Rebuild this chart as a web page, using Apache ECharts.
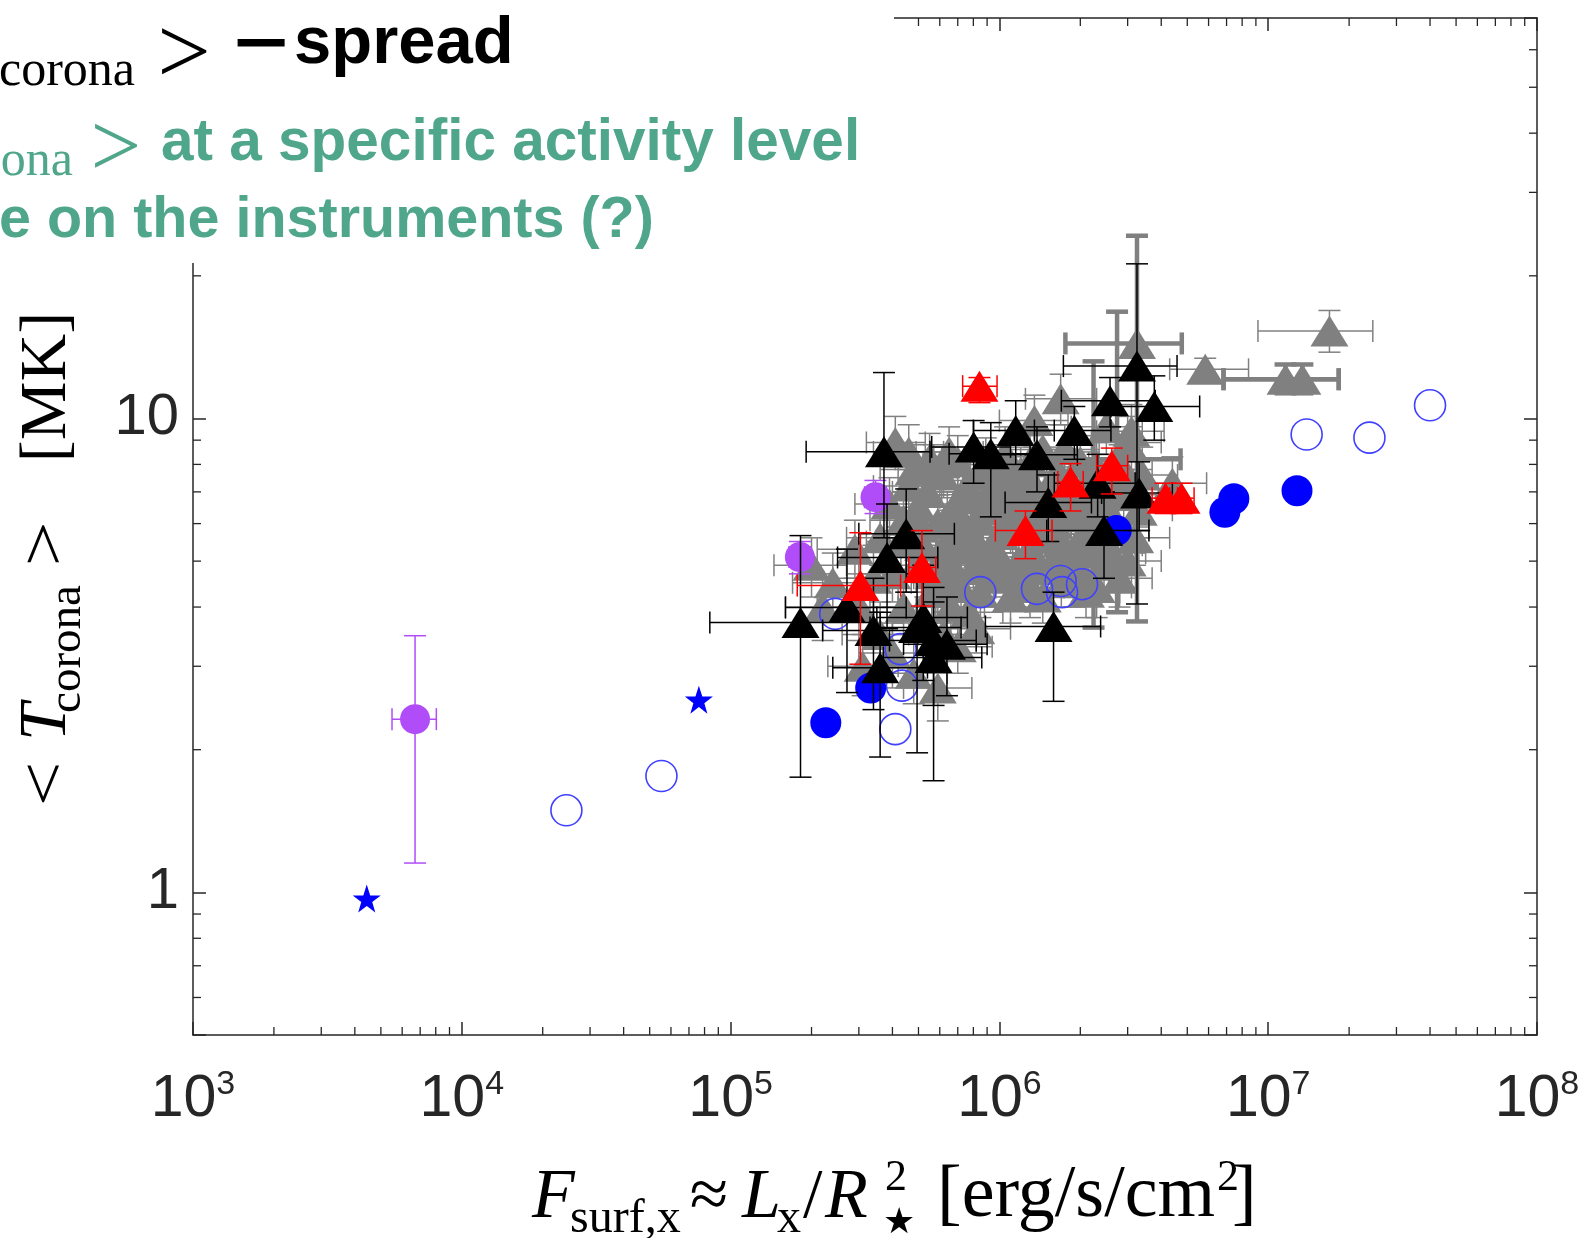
<!DOCTYPE html>
<html>
<head>
<meta charset="utf-8">
<title>Coronal temperature vs X-ray surface flux</title>
<script src="https://cdn.jsdelivr.net/npm/echarts@6/dist/echarts.min.js"></script>
<style>
html,body{margin:0;padding:0;background:#ffffff;}
#chart{width:1583px;height:1238px;}
</style>
</head>
<body>
<div id="chart"></div>
<script>
// ---------------- axes ----------------
const xRange = [1e3, 1e8];
const yRange = [0.5, 70];
const xTickExponents = [3, 4, 5, 6, 7, 8];
const yTickLabels = ['1', '10'];
const xDecades = [1e3, 1e4, 1e5, 1e6, 1e7];
const yDecades = [0.1, 1, 10];
const minorMultipliers = [2, 3, 4, 5, 6, 7, 8, 9];

// ---------------- data: [F_surf, T, F_lo, F_hi, T_lo, T_hi] ----------------
const grayThick = [
  [3.25e6, 14.4, 1.76e6, 4.77e6, 3.73, 24.3],
  [2.74e6, 8.2, 1.9e6, 4.72e6, 3.9, 16.8],
  [2.24e6, 7.0, 1.6e6, 3.2e6, 3.62, 13.2],
  [1.16e7, 12.1, 6.82e6, 1.83e7, 11.3, 13.0],
  [1.34e7, 12.1, 6.82e6, 1.83e7, 11.3, 13.0]
];
const gray = [
  [4.1e5, 8.9, 3.2e5, 5.3e5, 7.9, 10.1],
  [4.8e5, 7.8, 3.6e5, 6.4e5, 6.9, 8.8],
  [5.4e5, 7.0, 4.0e5, 7.2e5, 6.2, 7.9],
  [6.1e5, 7.6, 4.6e5, 8.3e5, 6.6, 8.7],
  [6.8e5, 6.5, 5.0e5, 9.2e5, 5.7, 7.4],
  [7.6e5, 7.2, 5.6e5, 1.0e6, 6.4, 8.1],
  [8.4e5, 6.1, 6.3e5, 1.1e6, 5.4, 6.9],
  [9.2e5, 7.0, 7.0e5, 1.2e6, 6.1, 8.0],
  [1.0e6, 5.7, 7.4e5, 1.35e6, 5.0, 6.5],
  [1.1e6, 6.6, 8.2e5, 1.45e6, 5.8, 7.5],
  [1.2e6, 7.7, 9.0e5, 1.6e6, 6.8, 8.7],
  [1.3e6, 5.3, 9.6e5, 1.75e6, 4.6, 6.1],
  [1.42e6, 6.3, 1.05e6, 1.9e6, 5.5, 7.2],
  [1.55e6, 7.3, 1.15e6, 2.1e6, 6.4, 8.3],
  [1.7e6, 5.5, 1.25e6, 2.3e6, 4.8, 6.3],
  [1.85e6, 6.5, 1.35e6, 2.5e6, 5.7, 7.4],
  [2.0e6, 8.1, 1.5e6, 2.7e6, 7.1, 9.2],
  [2.2e6, 5.2, 1.6e6, 3.0e6, 4.5, 6.0],
  [2.4e6, 6.7, 1.8e6, 3.2e6, 5.8, 7.7],
  [2.7e6, 5.9, 2.0e6, 3.6e6, 5.1, 6.8],
  [3.0e6, 8.9, 2.2e6, 4.0e6, 7.8, 10.1],
  [3.3e6, 6.4, 2.4e6, 4.4e6, 5.6, 7.3],
  [1.69e6, 11.0, 1.25e6, 2.3e6, 9.7, 12.4],
  [1.35e6, 9.9, 1.0e6, 1.8e6, 8.7, 11.2],
  [2.5e6, 9.6, 1.85e6, 3.4e6, 8.4, 10.9],
  [4.4e5, 6.1, 3.3e5, 5.9e5, 5.3, 7.0],
  [5.2e5, 5.4, 3.9e5, 7.0e5, 4.7, 6.2],
  [5.9e5, 6.0, 4.4e5, 7.9e5, 5.2, 6.9],
  [7.0e5, 5.3, 5.2e5, 9.4e5, 4.6, 6.1],
  [8.0e5, 4.8, 6.0e5, 1.07e6, 4.2, 5.5],
  [9.5e5, 4.6, 7.1e5, 1.27e6, 4.0, 5.3],
  [1.12e6, 4.7, 8.4e5, 1.5e6, 4.1, 5.4],
  [1.3e6, 4.4, 9.7e5, 1.74e6, 3.8, 5.1],
  [1.55e6, 4.8, 1.15e6, 2.1e6, 4.2, 5.5],
  [1.9e6, 4.6, 1.4e6, 2.55e6, 4.0, 5.3],
  [2.3e6, 4.4, 1.7e6, 3.1e6, 3.8, 5.1],
  [6.3e5, 4.5, 4.7e5, 8.4e5, 3.9, 5.2],
  [7.4e5, 5.9, 5.5e5, 9.9e5, 5.2, 6.7],
  [8.9e5, 8.0, 6.6e5, 1.2e6, 7.0, 9.1],
  [1.05e6, 8.4, 7.8e5, 1.4e6, 7.4, 9.6],
  [1.9e6, 7.1, 1.4e6, 2.55e6, 6.2, 8.1],
  [4.9e5, 4.9, 3.7e5, 6.6e5, 4.3, 5.6],
  [5.6e5, 4.3, 4.2e5, 7.5e5, 3.7, 4.9],
  [3.9e5, 6.6, 2.9e5, 5.2e5, 5.8, 7.5],
  [4.0e5, 4.7, 3.0e5, 5.4e5, 4.1, 5.4],
  [4.4e5, 4.0, 3.3e5, 5.9e5, 3.5, 4.6],
  [5.3e5, 3.7, 4.0e5, 7.1e5, 3.2, 4.2],
  [6.6e5, 4.0, 4.9e5, 8.8e5, 3.5, 4.6],
  [7.7e5, 3.9, 5.8e5, 1.03e6, 3.4, 4.5],
  [3.4e6, 7.6, 2.5e6, 4.6e6, 6.6, 8.7],
  [4.4e6, 7.3, 3.3e6, 5.9e6, 6.4, 8.3],
  [2.8e6, 4.6, 2.1e6, 3.7e6, 4.0, 5.3],
  [4.6e5, 8.5, 3.4e5, 6.2e5, 7.5, 9.7],
  [3.1e6, 9.4, 2.3e6, 4.1e6, 8.2, 10.7],
  [5.83e6, 12.7, 4.3e6, 8.45e6, 11.9, 13.4],
  [1.69e7, 15.3, 9.16e6, 2.45e7, 13.8, 16.9],
  [3.4e5, 4.6, 2.4e5, 4.8e5, 3.9, 5.4],
  [2.9e5, 5.3, 2.1e5, 4.0e5, 4.6, 6.1],
  [3.0e5, 4.0, 2.1e5, 4.2e5, 3.4, 4.7],
  [2.4e5, 4.5, 1.7e5, 3.4e5, 3.9, 5.2],
  [3.6e5, 3.5, 2.6e5, 5.0e5, 3.0, 4.1],
  [6.0e5, 5.0, 4.5e5, 8.0e5, 4.4, 5.7],
  [7.2e5, 4.4, 5.4e5, 9.6e5, 3.9, 5.0],
  [8.6e5, 5.2, 6.4e5, 1.15e6, 4.6, 5.9],
  [1.0e6, 5.1, 7.5e5, 1.34e6, 4.5, 5.8],
  [1.16e6, 5.9, 8.7e5, 1.55e6, 5.2, 6.7],
  [1.38e6, 5.6, 1.03e6, 1.85e6, 4.9, 6.4],
  [1.6e6, 6.0, 1.2e6, 2.14e6, 5.3, 6.8],
  [1.8e6, 5.0, 1.35e6, 2.4e6, 4.4, 5.7],
  [2.05e6, 5.7, 1.53e6, 2.75e6, 5.0, 6.5],
  [2.3e6, 6.1, 1.7e6, 3.1e6, 5.4, 6.9],
  [9.8e5, 6.4, 7.3e5, 1.3e6, 5.6, 7.3],
  [8.0e5, 6.8, 6.0e5, 1.07e6, 6.0, 7.7],
  [6.5e5, 5.6, 4.9e5, 8.7e5, 4.9, 6.4],
  [1.25e6, 6.9, 9.3e5, 1.67e6, 6.1, 7.8],
  [1.7e6, 6.9, 1.27e6, 2.27e6, 6.1, 7.8],
  [2.15e6, 7.5, 1.6e6, 2.9e6, 6.6, 8.5],
  [2.6e6, 7.2, 1.95e6, 3.5e6, 6.4, 8.2],
  [1.45e6, 8.6, 1.08e6, 1.94e6, 7.6, 9.7],
  [1.1e6, 7.3, 8.2e5, 1.47e6, 6.4, 8.3],
  [7.0e5, 8.1, 5.2e5, 9.4e5, 7.1, 9.2],
  [5.5e5, 8.2, 4.1e5, 7.4e5, 7.2, 9.3],
  [2.1e6, 4.3, 1.57e6, 2.8e6, 3.8, 4.9],
  [1.45e6, 4.2, 1.08e6, 1.94e6, 3.7, 4.8],
  [1.1e6, 4.2, 8.2e5, 1.47e6, 3.7, 4.8],
  [8.5e5, 4.3, 6.3e5, 1.14e6, 3.8, 4.9],
  [3.1e5, 3.0, 2.3e5, 4.2e5, 2.6, 3.5],
  [4.0e5, 3.2, 3.0e5, 5.4e5, 2.7, 3.7],
  [4.8e5, 2.9, 3.6e5, 6.4e5, 2.5, 3.4],
  [2.2e5, 4.0, 1.6e5, 3.0e5, 3.4, 4.7],
  [2.0e5, 4.9, 1.45e5, 2.7e5, 4.2, 5.6],
  [5.9e5, 2.7, 4.4e5, 7.9e5, 2.3, 3.2],
  [3.0e6, 5.0, 2.2e6, 4.0e6, 4.4, 5.7],
  [2.5e6, 5.4, 1.85e6, 3.4e6, 4.7, 6.2],
  [5.0e5, 6.5, 3.7e5, 6.7e5, 5.7, 7.4],
  [5.7e5, 7.8, 4.2e5, 7.7e5, 6.9, 8.8],
  [6.4e5, 6.2, 4.8e5, 8.6e5, 5.5, 7.0],
  [7.3e5, 6.9, 5.4e5, 9.8e5, 6.1, 7.8],
  [8.2e5, 5.5, 6.1e5, 1.1e6, 4.8, 6.3],
  [9.0e5, 6.6, 6.7e5, 1.2e6, 5.8, 7.5],
  [9.6e5, 5.2, 7.2e5, 1.28e6, 4.6, 5.9],
  [1.04e6, 6.9, 7.8e5, 1.4e6, 6.1, 7.8],
  [1.08e6, 6.1, 8.1e5, 1.45e6, 5.4, 6.9],
  [1.18e6, 5.0, 8.8e5, 1.58e6, 4.4, 5.7],
  [1.22e6, 6.5, 9.1e5, 1.64e6, 5.7, 7.4],
  [1.33e6, 7.3, 9.9e5, 1.78e6, 6.4, 8.3],
  [1.36e6, 4.9, 1.02e6, 1.82e6, 4.3, 5.6],
  [1.5e6, 5.9, 1.12e6, 2.0e6, 5.2, 6.7],
  [1.62e6, 5.1, 1.21e6, 2.17e6, 4.5, 5.8],
  [1.75e6, 6.2, 1.3e6, 2.35e6, 5.5, 7.0],
  [1.95e6, 5.4, 1.45e6, 2.6e6, 4.7, 6.1],
  [2.0e6, 6.3, 1.5e6, 2.7e6, 5.6, 7.1],
  [2.2e6, 6.8, 1.6e6, 2.95e6, 6.0, 7.7],
  [2.45e6, 4.9, 1.8e6, 3.3e6, 4.3, 5.6],
  [2.55e6, 6.4, 1.9e6, 3.4e6, 5.6, 7.3],
  [2.9e6, 6.9, 2.15e6, 3.9e6, 6.1, 7.8],
  [3.2e6, 5.6, 2.4e6, 4.3e6, 4.9, 6.4],
  [1.05e6, 7.8, 7.8e5, 1.4e6, 6.9, 8.8],
  [1.3e6, 8.1, 9.7e5, 1.74e6, 7.1, 9.2],
  [1.65e6, 7.7, 1.23e6, 2.2e6, 6.8, 8.7],
  [1.75e6, 8.6, 1.3e6, 2.35e6, 7.6, 9.7],
  [8.5e5, 7.6, 6.3e5, 1.14e6, 6.7, 8.6],
  [6.5e5, 8.5, 4.9e5, 8.7e5, 7.5, 9.6],
  [5.1e5, 5.9, 3.8e5, 6.8e5, 5.2, 6.7],
  [5.7e5, 4.7, 4.3e5, 7.6e5, 4.1, 5.3],
  [6.8e5, 4.8, 5.1e5, 9.1e5, 4.2, 5.5],
  [7.8e5, 5.7, 5.8e5, 1.04e6, 5.0, 6.4],
  [9.0e5, 4.9, 6.7e5, 1.2e6, 4.3, 5.6],
  [1.2e6, 4.5, 9.0e5, 1.6e6, 4.0, 5.1],
  [1.7e6, 4.5, 1.27e6, 2.27e6, 4.0, 5.1],
  [2.0e6, 4.8, 1.5e6, 2.7e6, 4.2, 5.5],
  [2.6e6, 5.2, 1.95e6, 3.5e6, 4.6, 5.9],
  [4.6e5, 7.2, 3.4e5, 6.2e5, 6.3, 8.1],
  [4.3e5, 5.5, 3.2e5, 5.8e5, 4.8, 6.3],
  [3.6e5, 5.6, 2.7e5, 4.8e5, 4.9, 6.4],
  [6.2e5, 3.5, 4.6e5, 8.3e5, 3.1, 4.0],
  [7.0e5, 3.3, 5.2e5, 9.4e5, 2.9, 3.8],
  [8.2e5, 3.6, 6.1e5, 1.1e6, 3.2, 4.1],
  [2.3e6, 7.9, 1.7e6, 3.1e6, 7.0, 8.9],
  [2.8e6, 7.8, 2.1e6, 3.7e6, 6.9, 8.8]
];
const blackTri = [
  [3.72e5, 8.51, 1.91e5, 5.52e5, 5.6, 12.5],
  [8.02e5, 8.71, 5.6e5, 1.1e6, 7.3, 9.9],
  [9.29e5, 8.42, 6.5e5, 1.3e6, 6.2, 9.8],
  [1.15e6, 9.43, 8.0e5, 1.6e6, 8.0, 10.9],
  [1.38e6, 8.38, 9.5e5, 1.95e6, 7.0, 9.6],
  [1.9e6, 9.43, 1.35e6, 2.6e6, 8.2, 10.6],
  [2.58e6, 10.9, 1.7e6, 3.8e6, 9.6, 12.2],
  [3.25e6, 12.9, 1.73e6, 4.58e6, 4.06, 21.2],
  [3.77e6, 10.6, 2.6e6, 5.56e6, 9.0, 12.3],
  [3.31e6, 6.96, 2.4e6, 4.4e6, 5.8, 8.1],
  [2.32e6, 7.3, 1.6e6, 3.2e6, 6.2, 8.4],
  [1.52e6, 6.65, 1.05e6, 2.2e6, 5.5, 7.6],
  [2.45e6, 5.8, 1.5e6, 3.6e6, 4.6, 7.0],
  [1.59e6, 3.64, 8.87e5, 2.38e6, 2.53, 4.3],
  [1.82e5, 3.71, 8.37e4, 3.4e5, 1.75, 5.66],
  [2.71e5, 3.99, 1.6e5, 4.5e5, 2.64, 5.3],
  [3.4e5, 3.57, 2.2e5, 5.0e5, 2.43, 4.6],
  [3.6e5, 2.98, 2.4e5, 5.4e5, 1.93, 3.9],
  [4.94e5, 3.62, 3.3e5, 7.2e5, 1.97, 4.7],
  [5.69e5, 3.40, 3.9e5, 8.2e5, 2.48, 4.4],
  [6.38e5, 3.34, 4.4e5, 9.0e5, 2.6, 4.2],
  [5.69e5, 3.13, 3.7e5, 8.6e5, 1.72, 4.1],
  [3.82e5, 5.09, 2.5e5, 5.9e5, 3.6, 6.6],
  [4.5e5, 5.71, 3.0e5, 6.8e5, 4.3, 7.1],
  [5.21e5, 3.80, 3.5e5, 7.6e5, 2.8, 4.9]
];
const redTri = [
  [8.43e5, 11.7, 7.3e5, 9.8e5, 10.8, 12.2],
  [2.62e6, 7.95, 2.3e6, 3.0e6, 6.93, 8.66],
  [1.84e6, 7.34, 1.65e6, 2.05e6, 6.38, 8.03],
  [1.25e6, 5.8, 9.66e5, 1.57e6, 5.06, 6.38],
  [4.15e6, 6.79, 3.7e6, 4.6e6, 6.3, 7.3],
  [4.76e6, 6.79, 4.3e6, 5.3e6, 6.3, 7.3],
  [3.04e5, 4.44, 1.77e5, 4.29e5, 3.03, 5.74],
  [5.15e5, 4.85, 4.6e5, 5.8e5, 4.02, 5.8]
];
const purpleDots = [
  [6.7e3, 2.32, 5.5e3, 8.04e3, 1.153, 3.48],
  [1.81e5, 5.1, 1.65e5, 1.98e5, 4.7, 5.5],
  [3.46e5, 6.82, 3.15e5, 3.8e5, 6.3, 7.4]
];
// [F_surf, T]
const blueFilled = [
  [2.26e5, 2.28],
  [3.32e5, 2.70],
  [2.72e6, 5.80],
  [6.9e6, 6.34],
  [7.45e6, 6.77],
  [1.28e7, 7.04]
];
const blueOpen = [
  [2.45e4, 1.49],
  [5.53e4, 1.76],
  [2.45e5, 3.87],
  [4.29e5, 3.26],
  [4.34e5, 2.73],
  [4.10e5, 2.21],
  [8.49e5, 4.30],
  [1.38e6, 4.37],
  [1.69e6, 4.54],
  [1.71e6, 4.30],
  [2.03e6, 4.47],
  [1.39e7, 9.25],
  [2.38e7, 9.11],
  [4.0e7, 10.66]
];
const blueStars = [
  [4.43e3, 0.97],
  [7.62e4, 2.55]
];

// ---------------- build ----------------
const xMinorTicks = xDecades.flatMap(d => minorMultipliers.map(m => m * d));
const yMinorTicks = yDecades.flatMap(d => minorMultipliers.map(m => m * d))
  .filter(v => v > yRange[0] && v < yRange[1]);

const AX = '#262626';
const TRI = [38, 31];
const STAR = 'path://M50,0 L61.8,35.1 L98.1,35.1 L68.8,56.7 L79.4,90.9 L50,69.1 L20.6,90.9 L31.2,56.7 L1.9,35.1 L38.2,35.1 Z';

function errorBars(name, data, color, width, cap, z) {
  return {
    type: 'custom', name: name, data: data, z: z, silent: true,
    xAxisIndex: 0, yAxisIndex: 0,
    encode: {x: 0, y: 1},
    renderItem: function (params, api) {
      const x = api.value(0), y = api.value(1);
      const xl = api.value(2), xh = api.value(3), yl = api.value(4), yh = api.value(5);
      const st = {stroke: color, lineWidth: width, fill: null};
      const ch = [];
      const seg = (p, q) => ch.push({type: 'line', shape: {x1: p[0], y1: p[1], x2: q[0], y2: q[1]}, style: st});
      if (xl > 0 && xh > 0) {
        const a = api.coord([xl, y]), b = api.coord([xh, y]);
        seg(a, b);
        seg([a[0], a[1] - cap / 2], [a[0], a[1] + cap / 2]);
        seg([b[0], b[1] - cap / 2], [b[0], b[1] + cap / 2]);
      }
      if (yl > 0 && yh > 0) {
        const a = api.coord([x, yl]), b = api.coord([x, yh]);
        seg(a, b);
        seg([a[0] - cap / 2, a[1]], [a[0] + cap / 2, a[1]]);
        seg([b[0] - cap / 2, b[1]], [b[0] + cap / 2, b[1]]);
      }
      return {type: 'group', children: ch};
    }
  };
}

function scatter(name, data, symbol, size, color, z, hollow) {
  return {
    type: 'scatter', name: name, z: z, silent: true,
    data: data.map(d => [d[0], d[1]]),
    symbol: symbol, symbolSize: size,
    itemStyle: hollow
      ? {color: 'rgba(255,255,255,0)', borderColor: color, borderWidth: 1.6, opacity: 1}
      : {color: color, opacity: 1, borderWidth: 0},
    emphasis: {disabled: true}
  };
}

const minorTickSeries = [
  {
    type: 'custom', name: 'xminor', silent: true, z: 20,
    data: xMinorTicks.map(v => [v, yRange[0]]), encode: {x: 0, y: 1},
    renderItem: function (params, api) {
      const v = api.value(0);
      const b = api.coord([v, yRange[0]]), t = api.coord([v, yRange[1]]);
      const st = {stroke: AX, lineWidth: 1.3};
      return {type: 'group', children: [
        {type: 'line', shape: {x1: b[0], y1: b[1], x2: b[0], y2: b[1] - 8}, style: st},
        {type: 'line', shape: {x1: t[0], y1: t[1], x2: t[0], y2: t[1] + 8}, style: st}
      ]};
    }
  },
  {
    type: 'custom', name: 'yminor', silent: true, z: 20,
    data: yMinorTicks.map(v => [xRange[0], v]), encode: {x: 0, y: 1},
    renderItem: function (params, api) {
      const v = api.value(1);
      const l = api.coord([xRange[0], v]), r = api.coord([xRange[1], v]);
      const st = {stroke: AX, lineWidth: 1.3};
      return {type: 'group', children: [
        {type: 'line', shape: {x1: l[0], y1: l[1], x2: l[0] + 8, y2: l[1]}, style: st},
        {type: 'line', shape: {x1: r[0], y1: r[1], x2: r[0] - 8, y2: r[1]}, style: st}
      ]};
    }
  }
];

function logAxis(kind, pos, range, showLabel) {
  const base = {
    type: 'log', logBase: 10, min: range[0], max: range[1], position: pos,
    axisLine: {show: true, onZero: false, lineStyle: {color: AX, width: 1.5}},
    axisTick: {show: true, inside: true, length: 13, lineStyle: {color: AX, width: 1.5}},
    splitLine: {show: false},
    minorTick: {show: false},
    minorSplitLine: {show: false}
  };
  if (!showLabel) {
    base.axisLabel = {show: false};
  } else if (kind === 'x') {
    base.axisLabel = {
      show: true, margin: 33, showMinLabel: true, showMaxLabel: true,
      formatter: function (v) {
        const e = Math.round(Math.log10(v));
        return xTickExponents.indexOf(e) >= 0 ? '{b|10}{s|' + e + '}' : '';
      },
      rich: {
        b: {fontSize: 59, fontFamily: 'Liberation Sans', color: AX},
        s: {fontSize: 34, fontFamily: 'Liberation Sans', color: AX, padding: [0, 0, 30, 0]}
      }
    };
  } else {
    base.axisLabel = {
      show: true, margin: 14, fontSize: 58, fontFamily: 'Liberation Sans', color: AX,
      formatter: function (v) {
        const s = String(Math.round(v));
        return (Math.abs(v - Math.round(v)) < 1e-6 && yTickLabels.indexOf(s) >= 0) ? s : '';
      }
    };
  }
  return base;
}

// positioned text (baseline given)
function txt(str, x, baseline, size, family, opts) {
  opts = opts || {};
  const asc = family.indexOf('Serif') >= 0 ? 0.3375 : 0.3465;
  return {
    type: 'text', z: 101, silent: true,
    style: {
      text: str, x: x, y: baseline - asc * size,
      fontSize: size, fontFamily: family,
      fontWeight: opts.weight || 'normal', fontStyle: opts.italic ? 'italic' : 'normal',
      fill: opts.color || '#000000',
      align: opts.align || 'left', textAlign: opts.align || 'left',
      verticalAlign: 'middle', textVerticalAlign: 'middle'
    }
  };
}
// glyph centred at (cx, cy) with optional scaling
function glyph(str, cx, cy, size, family, opts) {
  opts = opts || {};
  return {
    type: 'text', z: 101, silent: true,
    x: cx, y: cy, scaleX: opts.sx || 1, scaleY: opts.sy || 1, rotation: opts.rot || 0,
    style: {
      text: str, x: 0, y: (opts.dy || 0) * size,
      fontSize: size, fontFamily: family,
      fontWeight: opts.weight || 'normal', fontStyle: opts.italic ? 'italic' : 'normal',
      fill: opts.color || '#000000',
      align: 'center', textAlign: 'center', verticalAlign: 'middle', textVerticalAlign: 'middle'
    }
  };
}
// rotated 90deg ccw; cy = screen y centre, baselineX = screen x of baseline
function rtxt(str, cy, baselineX, size, family, opts) {
  opts = opts || {};
  return {
    type: 'text', z: 101, silent: true,
    x: baselineX - 0.3375 * size, y: cy, rotation: Math.PI / 2, scaleX: opts.sx || 1,
    style: {
      text: str, x: 0, y: 0, fontSize: size, fontFamily: family,
      fontStyle: opts.italic ? 'italic' : 'normal', fill: '#000000',
      align: 'center', textAlign: 'center', verticalAlign: 'middle', textVerticalAlign: 'middle'
    }
  };
}

const GREEN = '#4FA68B';
const SERIF = 'Liberation Serif';
const SANS = 'Liberation Sans';

const graphics = [
  {type: 'rect', z: 100, silent: true, shape: {x: 0, y: 0, width: 894, height: 263}, style: {fill: '#ffffff'}},
  // overlay text lines (slide annotations)
  txt('corona', 135, 89, 50, SERIF, {align: 'right'}),
  glyph('>', 184, 49, 95, SERIF, {dy: 0.09}),
  glyph('\u2212', 261, 47, 67, SANS, {weight: 'bold', sx: 1.4}),
  txt('spread', 294, 68, 67, SANS, {weight: 'bold'}),
  txt('ona', 73, 179, 50, SERIF, {align: 'right', color: GREEN}),
  glyph('>', 116, 144.5, 90, SERIF, {dy: 0.09, color: GREEN}),
  txt('at a specific activity level', 161, 164, 58.5, SANS, {weight: 'bold', color: GREEN}),
  txt('e on the instruments (?)', -1, 241, 57.5, SANS, {weight: 'bold', color: GREEN}),
  // y-axis title (rotated)
  rtxt('<', 784, 70, 66, SERIF, {sx: 1.2}),
  rtxt('T', 722, 70, 68, SERIF, {italic: true}),
  rtxt('corona', 649, 84, 47, SERIF),
  rtxt('>', 544, 70, 66, SERIF, {sx: 1.2}),
  rtxt('[MK]', 387, 70, 66, SERIF),
  // x-axis title
  txt('F', 532, 1222, 70, SERIF, {italic: true}),
  txt('surf,x', 570, 1236, 48, SERIF),
  txt('\u2248', 709, 1222, 70, SERIF, {align: 'center'}),
  txt('L', 742, 1222, 70, SERIF, {italic: true}),
  txt('x', 777, 1236, 48, SERIF),
  txt('/', 803, 1222, 70, SERIF),
  txt('R', 825, 1222, 70, SERIF, {italic: true}),
  txt('\u2605', 883, 1236, 36, 'DejaVu Sans'),
  txt('2', 885, 1193, 44, SERIF),
  txt('[erg/s/cm', 937, 1222, 74, SERIF),
  txt('2', 1217, 1193, 44, SERIF),
  txt(']', 1232, 1222, 74, SERIF)
];

const series = [].concat(
  minorTickSeries,
  [
    errorBars('grayErr', gray, '#808080', 1.5, 22, 2),
    errorBars('grayThickErr', grayThick, '#808080', 4.5, 22, 2),
    scatter('gray', gray, 'triangle', TRI, '#808080', 3, false),
    scatter('grayThick', grayThick, 'triangle', TRI, '#808080', 3, false),
    scatter('blueOpen', blueOpen, 'circle', 31, '#4040FF', 4, true),
    scatter('blueFilled', blueFilled, 'circle', 31, '#0000FF', 5, false),
    errorBars('purpleErr', purpleDots, '#B04CF8', 1.5, 22, 6),
    scatter('purple', purpleDots, 'circle', 30, '#B04CF8', 6, false),
    errorBars('blackErr', blackTri, '#000000', 1.5, 22, 7),
    scatter('black', blackTri, 'triangle', TRI, '#000000', 8, false),
    errorBars('redErr', redTri, '#FF0000', 1.5, 22, 9),
    scatter('red', redTri, 'triangle', TRI, '#FF0000', 10, false),
    scatter('stars', blueStars, STAR, 28, '#0000FF', 10, false)
  ]
);

const option = {
  animation: false,
  backgroundColor: '#ffffff',
  grid: {left: 193, top: 18, right: 46, bottom: 203, containLabel: false, outerBoundsMode: 'none'},
  xAxis: [logAxis('x', 'bottom', xRange, true), logAxis('x', 'top', xRange, false)],
  yAxis: [logAxis('y', 'left', yRange, true), logAxis('y', 'right', yRange, false)],
  tooltip: {show: false},
  legend: {show: false},
  graphic: graphics,
  series: series
};

const chart = echarts.init(document.getElementById('chart'), null, {renderer: 'canvas'});
chart.setOption(option);
</script>
</body>
</html>
